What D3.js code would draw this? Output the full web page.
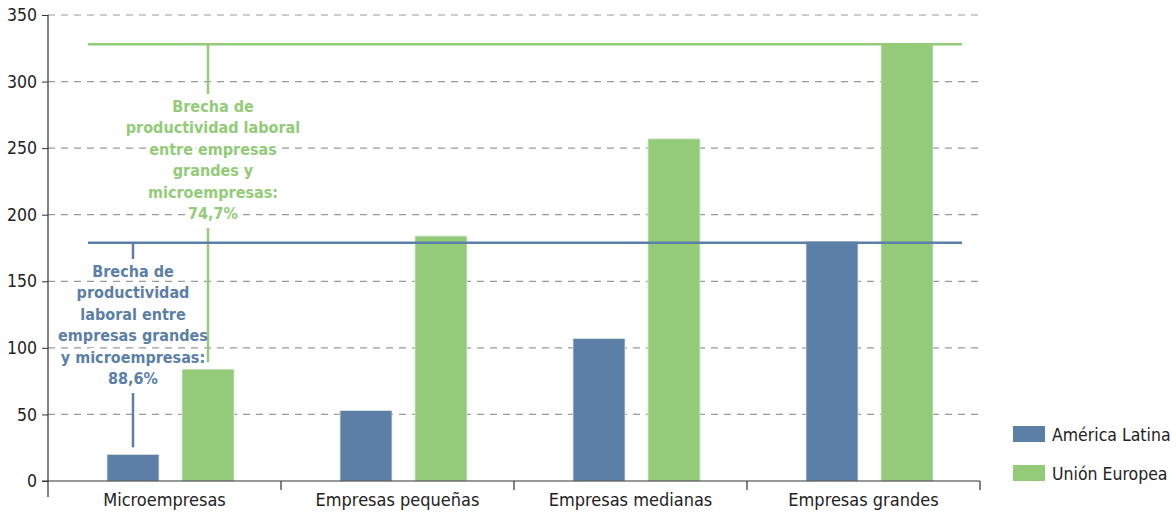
<!DOCTYPE html>
<html><head><meta charset="utf-8">
<script src="https://cdn.jsdelivr.net/npm/d3@7"></script>
<style>
body{margin:0;background:#fff;}
text{font-family:"Liberation Sans Narrow","DejaVu Sans Condensed",sans-serif;}
</style></head>
<body><svg id="c" width="1176" height="515"></svg>
<script>
const categories = ["Microempresas","Empresas pequeñas","Empresas medianas","Empresas grandes"];
const series = ["América Latina","Unión Europea"];
const latam = [20, 53, 107, 180];
const ue = [84, 184, 257, 328];
const yTicks = [0,50,100,150,200,250,300,350];
const gapLatam = ["Brecha de","productividad","laboral entre","empresas grandes","y microempresas:","88,6%"];
const gapUe = ["Brecha de","productividad laboral","entre empresas","grandes y","microempresas:","74,7%"];
const colors = {"América Latina":"#5b7fa6","Unión Europea":"#93cb78"};

const svg = d3.select("#c");
const x0 = d3.scaleBand().domain(categories).range([48,980]).padding(0);
const x1 = d3.scaleBand().domain(series).range([59,186]).paddingInner(23/75).paddingOuter(0);
const y = d3.scaleLinear().domain([0,350]).range([481,15]);

// gridlines
svg.append("g").selectAll("line").data(yTicks.filter(d=>d>0)).join("line")
  .attr("x1",48).attr("x2",980).attr("y1",d=>y(d)).attr("y2",d=>y(d))
  .attr("stroke","#9a9a9a").attr("stroke-width",1.2).attr("stroke-dasharray","7,6");

// bars
const data = categories.map((c,i)=>({c, vals:[{s:series[0],v:latam[i]},{s:series[1],v:ue[i]}]}));
const g = svg.append("g");
data.forEach(d=>{
  d.vals.forEach(e=>{
    g.append("rect").attr("x",x0(d.c)+x1(e.s)).attr("width",x1.bandwidth())
     .attr("y",y(e.v)).attr("height",y(0)-y(e.v)).attr("fill",colors[e.s])
     .attr("stroke","#dfe9dc").attr("stroke-width",0.8);
  });
});

// axes
const yAxis = svg.append("g").attr("transform","translate(48,0)")
  .call(d3.axisLeft(y).tickValues(yTicks).tickSize(6).tickPadding(5));
yAxis.select(".domain").remove();
yAxis.selectAll("line").attr("stroke","#333");
yAxis.selectAll("text").attr("font-size",17.5).attr("fill","#222");
svg.append("line").attr("x1",48).attr("x2",48).attr("y1",15).attr("y2",497).attr("stroke","#333").attr("stroke-width",1.2);

const xAxis = svg.append("g").attr("transform","translate(0,481)")
  .call(d3.axisBottom(x0).tickSize(0).tickPadding(12));
xAxis.select(".domain").remove();
xAxis.selectAll("text").attr("font-size",18).attr("fill","#222");
svg.append("line").attr("x1",42).attr("x2",980).attr("y1",481).attr("y2",481).attr("stroke","#333").attr("stroke-width",1.2);
svg.append("g").selectAll("line").data(categories.slice(1).map(c=>x0(c)).concat([x0(categories[3])+x0.bandwidth()])).join("line")
  .attr("x1",d=>d).attr("x2",d=>d).attr("y1",481).attr("y2",490).attr("stroke","#333").attr("stroke-width",1.2);

// gap annotations
const haloLayer = svg.append("g");
const lineLayer = svg.append("g");
const textLayer = svg.append("g");
function gap(topVal, barVal, lines, cx, tx, textTop, color){
  const xs = x0(categories[0])+40, xe = x0(categories[3])+215;
  lineLayer.append("line").attr("x1",xs).attr("x2",xe).attr("y1",y(topVal)).attr("y2",y(topVal))
    .attr("stroke",color).attr("stroke-width",2.5);
  const lh = 21.4;
  lineLayer.append("line").attr("x1",cx).attr("x2",cx).attr("y1",y(topVal)).attr("y2",textTop-4)
    .attr("stroke",color).attr("stroke-width",2.5);
  const lastBase = textTop + 14 + lh*(lines.length-1);
  lineLayer.append("line").attr("x1",cx).attr("x2",cx).attr("y1",lastBase+9).attr("y2",y(barVal)-7)
    .attr("stroke",color).attr("stroke-width",2.5);
  [haloLayer, textLayer].forEach((layer,k)=>{
    const t = layer.append("text").attr("text-anchor","middle").attr("font-size",16).attr("font-weight","bold");
    if(k===0) t.attr("fill","#fff").attr("stroke","#fff").attr("stroke-width",6).attr("stroke-linejoin","round");
    else t.attr("fill",color);
    lines.forEach((l,i)=>{
      t.append("tspan").attr("x",tx).attr("y",textTop+14+lh*i).text(l);
    });
  });
}
const cxL = x0(categories[0])+x1(series[0])+x1.bandwidth()/2;
const cxU = x0(categories[0])+x1(series[1])+x1.bandwidth()/2;
gap(ue[3], ue[0], gapUe, cxU, cxU+5, 98, colors[series[1]]);
gap(latam[3]-1, latam[0], gapLatam, cxL, cxL, 263, colors[series[0]]);

// legend
const lg = svg.append("g");
series.forEach((s,i)=>{
  lg.append("rect").attr("x",1013).attr("y",426+i*39).attr("width",32).attr("height",16).attr("fill",colors[s]);
  lg.append("text").attr("x",1052).attr("y",441+i*39).attr("font-size",17.5).attr("fill","#222").text(s);
});
</script></body></html>
